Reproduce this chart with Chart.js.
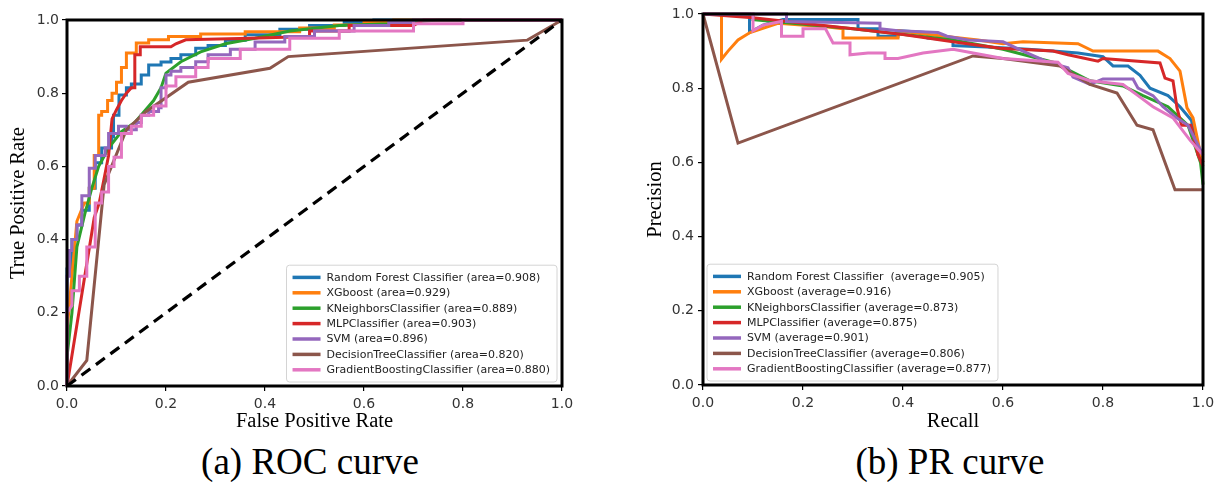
<!DOCTYPE html>
<html>
<head>
<meta charset="utf-8">
<script src="https://cdn.jsdelivr.net/npm/chart.js@4.4.1/dist/chart.umd.min.js"></script>
<style>
  body { margin: 0; background: #fff; width: 1220px; height: 482px; overflow: hidden; position: relative; }
  canvas { position: absolute; top: 0; }
  #roc { left: 0; }
  #pr { left: 640px; }
  .caption { position: absolute; top: 440px; width: 400px; font-family: 'Liberation Serif', 'Times New Roman', serif; font-size: 37px; line-height: 44px; text-align: center; color: #000; }
</style>
</head>
<body>
<canvas id="roc" width="610" height="440"></canvas>
<canvas id="pr" width="580" height="440"></canvas>
<div class="caption" style="left:110px">(a) ROC curve</div>
<div class="caption" style="left:750px">(b) PR curve</div>
<script>
// matplotlib tab10 colours, one per model
const colors = ['#1f77b4', '#ff7f0e', '#2ca02c', '#d62728', '#9467bd', '#8c564b', '#e377c2'];
const tickValues = [0, 0.2, 0.4, 0.6, 0.8, 1.0];

const rocLabels = [
  'Random Forest Classifier (area=0.908)',
  'XGboost (area=0.929)',
  'KNeighborsClassifier (area=0.889)',
  'MLPClassifier (area=0.903)',
  'SVM (area=0.896)',
  'DecisionTreeClassifier (area=0.820)',
  'GradientBoostingClassifier (area=0.880)'
];
const prLabels = [
  'Random Forest Classifier  (average=0.905)',
  'XGboost (average=0.916)',
  'KNeighborsClassifier (average=0.873)',
  'MLPClassifier (average=0.875)',
  'SVM (average=0.901)',
  'DecisionTreeClassifier (average=0.806)',
  'GradientBoostingClassifier (average=0.877)'
];

// ROC curves, [fpr, tpr]
const rocRF = [[0,0],[0,0.32],[0.01,0.32],[0.01,0.4],[0.02,0.4],[0.02,0.44],[0.03,0.44],[0.03,0.48],[0.045,0.48],[0.045,0.54],[0.057,0.54],[0.057,0.61],[0.07,0.61],[0.07,0.65],[0.09,0.65],[0.09,0.68],[0.094,0.68],[0.094,0.74],[0.105,0.74],[0.105,0.795],[0.12,0.795],[0.12,0.815],[0.13,0.815],[0.13,0.825],[0.15,0.825],[0.15,0.85],[0.165,0.85],[0.165,0.877],[0.19,0.877],[0.19,0.885],[0.21,0.885],[0.21,0.895],[0.23,0.895],[0.23,0.905],[0.26,0.905],[0.26,0.923],[0.285,0.923],[0.285,0.93],[0.32,0.93],[0.32,0.945],[0.36,0.945],[0.36,0.96],[0.43,0.96],[0.43,0.975],[0.49,0.975],[0.49,0.985],[0.56,0.985],[0.56,0.993],[0.62,0.993],[0.62,1],[1,1]];
const rocXG = [[0,0],[0,0.15],[0.01,0.3],[0.02,0.45],[0.035,0.5],[0.045,0.5],[0.045,0.54],[0.055,0.54],[0.055,0.63],[0.064,0.63],[0.064,0.74],[0.07,0.74],[0.07,0.75],[0.082,0.75],[0.082,0.78],[0.091,0.78],[0.091,0.8],[0.1,0.8],[0.1,0.83],[0.11,0.83],[0.11,0.87],[0.12,0.87],[0.12,0.91],[0.14,0.91],[0.14,0.937],[0.165,0.937],[0.165,0.946],[0.205,0.946],[0.205,0.955],[0.27,0.955],[0.27,0.962],[0.36,0.962],[0.36,0.968],[0.47,0.968],[0.47,0.978],[0.54,0.978],[0.54,0.986],[0.6,0.986],[0.6,0.993],[0.66,0.993],[0.66,1],[1,1]];
const rocKNN = [[0,0],[0,0.08],[0.01,0.2],[0.02,0.38],[0.036,0.47],[0.05,0.54],[0.064,0.6],[0.084,0.65],[0.11,0.695],[0.137,0.72],[0.156,0.75],[0.175,0.78],[0.19,0.815],[0.2,0.855],[0.23,0.886],[0.27,0.913],[0.32,0.935],[0.38,0.95],[0.45,0.97],[0.55,0.985],[0.65,0.99],[0.75,1],[1,1]];
const rocMLP = [[0,0],[0.055,0.46],[0.065,0.5],[0.074,0.56],[0.084,0.63],[0.091,0.73],[0.1,0.755],[0.11,0.78],[0.12,0.8],[0.13,0.815],[0.137,0.815],[0.137,0.905],[0.148,0.905],[0.148,0.927],[0.21,0.927],[0.22,0.935],[0.24,0.946],[0.37,0.95],[0.49,0.955],[0.49,0.97],[0.57,0.97],[0.57,0.985],[0.7,0.985],[0.72,1],[1,1]];
const rocSVM = [[0,0],[0,0.3],[0.005,0.3],[0.005,0.37],[0.01,0.37],[0.01,0.4],[0.02,0.4],[0.02,0.44],[0.03,0.44],[0.03,0.52],[0.045,0.52],[0.045,0.595],[0.057,0.595],[0.057,0.63],[0.077,0.63],[0.077,0.65],[0.084,0.65],[0.084,0.69],[0.104,0.69],[0.104,0.71],[0.12,0.71],[0.12,0.7],[0.14,0.7],[0.14,0.72],[0.15,0.72],[0.15,0.74],[0.165,0.74],[0.165,0.75],[0.185,0.75],[0.185,0.76],[0.19,0.76],[0.19,0.815],[0.2,0.815],[0.2,0.85],[0.21,0.85],[0.21,0.86],[0.23,0.86],[0.23,0.87],[0.26,0.87],[0.26,0.886],[0.285,0.886],[0.285,0.905],[0.33,0.905],[0.33,0.92],[0.38,0.92],[0.38,0.94],[0.44,0.94],[0.44,0.955],[0.5,0.955],[0.5,0.97],[0.58,0.97],[0.58,0.985],[0.65,0.985],[0.65,0.993],[0.7,0.993],[0.7,1],[1,1]];
const rocDT = [[0,0],[0.04,0.07],[0.075,0.55],[0.09,0.6],[0.12,0.7],[0.16,0.75],[0.245,0.83],[0.41,0.868],[0.447,0.9],[0.93,0.945],[1,1]];
const rocGB = [[0,0],[0,0.2],[0.01,0.22],[0.01,0.26],[0.025,0.26],[0.025,0.3],[0.04,0.3],[0.04,0.38],[0.057,0.38],[0.057,0.5],[0.07,0.5],[0.07,0.53],[0.084,0.53],[0.084,0.6],[0.095,0.6],[0.095,0.625],[0.11,0.625],[0.11,0.69],[0.13,0.69],[0.13,0.71],[0.15,0.71],[0.15,0.74],[0.175,0.74],[0.175,0.765],[0.2,0.765],[0.2,0.82],[0.22,0.82],[0.22,0.845],[0.26,0.845],[0.26,0.87],[0.285,0.87],[0.285,0.895],[0.35,0.895],[0.35,0.92],[0.45,0.92],[0.45,0.95],[0.55,0.95],[0.55,0.97],[0.7,0.97],[0.7,0.99],[0.8,0.99],[0.8,1],[1,1]];
const rocChance = [[0,0],[1,1]];

// PR curves, [recall, precision]
const prRF = [[0,1],[0.093,1],[0.093,0.95],[0.1,0.955],[0.12,0.97],[0.16,0.985],[0.31,0.985],[0.31,0.96],[0.35,0.96],[0.35,0.94],[0.39,0.94],[0.39,0.955],[0.45,0.95],[0.45,0.935],[0.5,0.93],[0.5,0.915],[0.59,0.91],[0.65,0.905],[0.7,0.9],[0.75,0.895],[0.8,0.885],[0.82,0.86],[0.85,0.86],[0.874,0.835],[0.894,0.8],[0.93,0.78],[0.954,0.75],[0.977,0.713],[0.987,0.64],[1,0.6]];
const prXG = [[0,1],[0.037,1],[0.037,0.878],[0.05,0.9],[0.07,0.93],[0.094,0.95],[0.15,0.975],[0.25,0.965],[0.28,0.96],[0.28,0.935],[0.39,0.935],[0.39,0.955],[0.45,0.945],[0.55,0.93],[0.6,0.92],[0.64,0.925],[0.75,0.92],[0.78,0.9],[0.91,0.9],[0.934,0.88],[0.954,0.846],[0.968,0.747],[0.98,0.72],[0.994,0.63],[1,0.6]];
const prKNN = [[0,1],[0.1,1],[0.1,0.985],[0.3,0.96],[0.5,0.93],[0.6,0.905],[0.7,0.87],[0.774,0.82],[0.84,0.806],[0.88,0.78],[0.93,0.75],[0.97,0.7],[0.995,0.6],[1,0.54]];
const prMLP = [[0,1],[0.1,0.99],[0.2,0.975],[0.3,0.96],[0.4,0.945],[0.5,0.925],[0.594,0.908],[0.7,0.9],[0.73,0.89],[0.79,0.873],[0.8,0.88],[0.914,0.868],[0.924,0.827],[0.94,0.82],[0.948,0.747],[0.957,0.7],[0.976,0.7],[0.99,0.62],[1,0.59]];
const prSVM = [[0,1],[0.167,1],[0.167,0.98],[0.354,0.975],[0.354,0.96],[0.39,0.955],[0.47,0.95],[0.488,0.94],[0.53,0.93],[0.6,0.925],[0.64,0.9],[0.69,0.87],[0.73,0.855],[0.74,0.83],[0.774,0.81],[0.8,0.825],[0.86,0.825],[0.87,0.8],[0.9,0.78],[0.92,0.75],[0.947,0.72],[0.97,0.7],[0.985,0.66],[1,0.62]];
const prDT = [[0,1],[0.07,0.652],[0.54,0.887],[0.6,0.88],[0.714,0.86],[0.774,0.81],[0.828,0.787],[0.868,0.7],[0.9,0.688],[0.944,0.526],[1,0.526]];
const prGB = [[0,1],[0.1,1],[0.1,0.955],[0.12,0.97],[0.157,0.98],[0.157,0.94],[0.2,0.94],[0.2,0.96],[0.245,0.96],[0.26,0.922],[0.294,0.922],[0.294,0.89],[0.33,0.895],[0.364,0.895],[0.364,0.88],[0.39,0.88],[0.44,0.895],[0.5,0.905],[0.6,0.88],[0.71,0.87],[0.73,0.84],[0.774,0.82],[0.84,0.81],[0.87,0.78],[0.9,0.75],[0.94,0.72],[0.974,0.66],[1,0.62]];

const rocCurves = [rocRF, rocXG, rocKNN, rocMLP, rocSVM, rocDT, rocGB];
const prCurves = [prRF, prXG, prKNN, prMLP, prSVM, prDT, prGB];

// black frame all round the plot area
const frame = {
  id: 'frame',
  afterDatasetsDraw(chart) {
    const { ctx, chartArea: a } = chart;
    ctx.save();
    ctx.strokeStyle = '#000';
    ctx.lineWidth = 3;
    ctx.strokeRect(a.left, a.top, a.right - a.left, a.bottom - a.top);
    ctx.restore();
  }
};

// matplotlib-like legend box inside the axes
const boxLegend = {
  id: 'boxLegend',
  afterDraw(chart, args, o) {
    const { ctx, chartArea: a } = chart;
    const items = chart.data.datasets.filter(d => !d.noLegend);
    ctx.save();
    ctx.font = o.font;
    const textW = Math.max(...items.map(d => ctx.measureText(d.label).width));
    const w = 40 + textW + 7;
    const h = items.length * o.row + 9;
    const x = o.side === 'right' ? a.right - 5 - w : a.left + 4;
    const y = a.bottom - 4 - h;
    ctx.fillStyle = 'rgba(255,255,255,0.85)';
    ctx.strokeStyle = '#d4d4d4';
    ctx.lineWidth = 1;
    ctx.beginPath();
    ctx.roundRect(x, y, w, h, 3);
    ctx.fill();
    ctx.stroke();
    items.forEach((d, i) => {
      const cy = y + 4.5 + o.row * (i + 0.5);
      ctx.strokeStyle = d.borderColor;
      ctx.lineWidth = 3.5;
      ctx.beginPath();
      ctx.moveTo(x + 6, cy);
      ctx.lineTo(x + 34, cy);
      ctx.stroke();
      ctx.fillStyle = '#222';
      ctx.textBaseline = 'middle';
      ctx.fillText(d.label, x + 40, cy + 0.5);
    });
    ctx.restore();
  }
};

function axis(title, titlePad, tickPad, fit) {
  return {
    type: 'linear',
    min: 0,
    max: 1,
    afterBuildTicks: s => { s.ticks = tickValues.map(v => ({ value: v })); },
    ticks: {
      padding: tickPad,
      color: '#333',
      font: { family: 'DejaVu Sans', size: 14 },
      callback: v => v.toFixed(1),
      maxRotation: 0,
      autoSkip: false
    },
    grid: { drawOnChartArea: false, drawTicks: true, tickLength: 5, color: '#000', lineWidth: 1.2 },
    border: { display: false },
    title: {
      display: true,
      text: title,
      color: '#000',
      font: { family: 'Liberation Serif', size: 20.5 },
      padding: titlePad
    },
    afterFit: fit
  };
}

function makeChart(id, curves, labels, extra, opts) {
  const datasets = curves.map((c, i) => ({
    label: labels[i],
    data: c.map(p => ({ x: p[0], y: p[1] })),
    borderColor: colors[i],
    borderWidth: 3,
    order: 10 - i
  }));
  if (extra) {
    datasets.push({
      label: 'chance',
      noLegend: true,
      data: extra.map(p => ({ x: p[0], y: p[1] })),
      borderColor: '#000',
      borderWidth: 3.2,
      borderDash: [11, 7],
      order: -1
    });
  }
  return new Chart(document.getElementById(id), {
    type: 'scatter',
    data: { datasets },
    options: {
      responsive: false,
      animation: false,
      devicePixelRatio: 1,
      showLine: true,
      clip: 4,
      elements: { point: { radius: 0 }, line: { tension: 0 } },
      layout: { padding: opts.padding },
      scales: {
        x: axis(opts.xTitle, { top: 0, bottom: 6 }, 5, s => { s.height = opts.xHeight; }),
        y: axis(opts.yTitle, { top: opts.yTitlePad, bottom: 0 }, opts.yTickPad, s => { s.width = opts.yWidth; })
      },
      plugins: {
        legend: { display: false },
        tooltip: { enabled: false },
        boxLegend: { side: opts.legendSide, font: '11px "DejaVu Sans"', row: 15.4 }
      }
    },
    plugins: [frame, boxLegend]
  });
}

makeChart('roc', rocCurves, rocLabels, rocChance, {
  padding: { top: 20, right: 48, bottom: 0, left: 0 },
  xHeight: 54, yWidth: 67, yTitlePad: 6, yTickPad: 3,
  xTitle: 'False Positive Rate', yTitle: 'True Positive Rate', legendSide: 'right'
});

makeChart('pr', prCurves, prLabels, null, {
  padding: { top: 14, right: 17, bottom: 0, left: 0 },
  xHeight: 55, yWidth: 63, yTitlePad: 3, yTickPad: 4,
  xTitle: 'Recall', yTitle: 'Precision', legendSide: 'left'
});
</script>
</body>
</html>
